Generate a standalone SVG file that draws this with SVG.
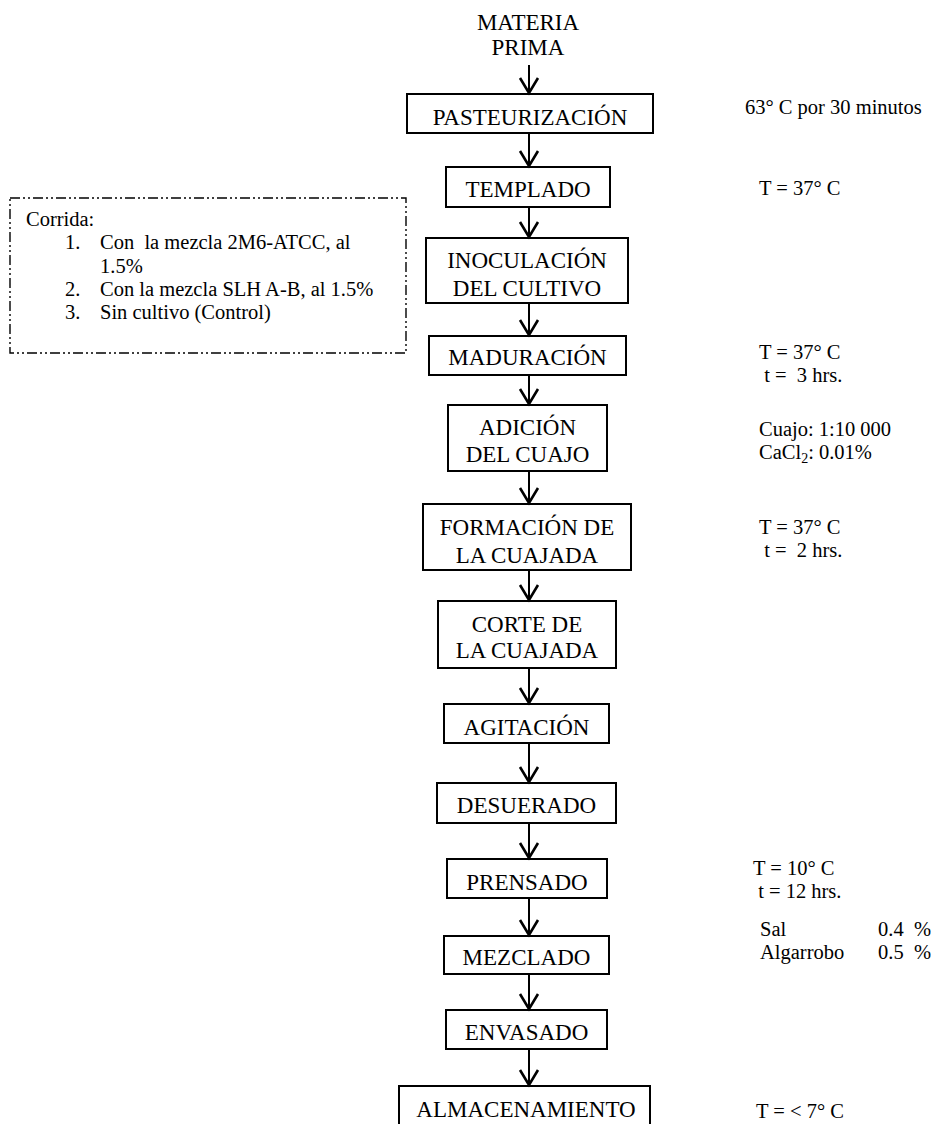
<svg xmlns="http://www.w3.org/2000/svg" width="937" height="1124" viewBox="0 0 937 1124">
<defs>
<style>
.bg{fill:#fff}
.box{fill:none;stroke:#000;stroke-width:2}
.lbl{font-family:"Liberation Serif","Times New Roman",serif;font-size:23px;text-anchor:middle;fill:#000}
.note{font-family:"Liberation Serif","Times New Roman",serif;font-size:20.5px;fill:#000;white-space:pre}
.side{font-family:"Liberation Serif","Times New Roman",serif;font-size:20.5px;fill:#000;white-space:pre}
.dd{fill:none;stroke:#000;stroke-width:1.4;stroke-dasharray:10 3 2 3 2 3}
.shaft{stroke:#000;stroke-width:2;fill:none}
.head{stroke:#000;stroke-width:2.6;fill:none;stroke-linejoin:miter}
</style>
</defs>
<rect class="bg" x="0" y="0" width="937" height="1124"/>

<g id="materia-prima">
<text class="lbl" x="528" y="30">MATERIA</text>
<text class="lbl" x="528" y="55">PRIMA</text>
</g>

<g id="connectors">
<line class="shaft" x1="529" y1="65" x2="529" y2="93"/><path class="head" d="M520,78 L529,93 L538,78"/>
<line class="shaft" x1="529" y1="134" x2="529" y2="166"/><path class="head" d="M520,151 L529,166 L538,151"/>
<line class="shaft" x1="529" y1="208" x2="529" y2="237"/><path class="head" d="M520,222 L529,237 L538,222"/>
<line class="shaft" x1="529" y1="304" x2="529" y2="335"/><path class="head" d="M520,320 L529,335 L538,320"/>
<line class="shaft" x1="529" y1="376" x2="529" y2="404"/><path class="head" d="M520,389 L529,404 L538,389"/>
<line class="shaft" x1="529" y1="472" x2="529" y2="503"/><path class="head" d="M520,488 L529,503 L538,488"/>
<line class="shaft" x1="529" y1="571" x2="529" y2="600"/><path class="head" d="M520,585 L529,600 L538,585"/>
<line class="shaft" x1="529" y1="669" x2="529" y2="703"/><path class="head" d="M520,688 L529,703 L538,688"/>
<line class="shaft" x1="529" y1="744" x2="529" y2="782"/><path class="head" d="M520,767 L529,782 L538,767"/>
<line class="shaft" x1="529" y1="824" x2="529" y2="858"/><path class="head" d="M520,843 L529,858 L538,843"/>
<line class="shaft" x1="529" y1="899" x2="529" y2="935"/><path class="head" d="M520,920 L529,935 L538,920"/>
<line class="shaft" x1="529" y1="975" x2="529" y2="1009"/><path class="head" d="M520,994 L529,1009 L538,994"/>
<line class="shaft" x1="529" y1="1050" x2="529" y2="1085"/><path class="head" d="M520,1070 L529,1085 L538,1070"/>
</g>

<g id="pasteurizacion">
<rect class="box" x="407" y="94" width="246" height="39"/>
<text class="lbl" x="530" y="125">PASTEURIZACIÓN</text>
</g>
<g id="templado">
<rect class="box" x="446" y="167" width="164" height="40"/>
<text class="lbl" x="528" y="197">TEMPLADO</text>
</g>
<g id="inoculacion">
<rect class="box" x="426" y="238" width="202" height="65"/>
<text class="lbl" x="527" y="268">INOCULACIÓN</text>
<text class="lbl" x="527" y="296">DEL CULTIVO</text>
</g>
<g id="maduracion">
<rect class="box" x="429" y="336" width="197" height="39"/>
<text class="lbl" x="527.5" y="365">MADURACIÓN</text>
</g>
<g id="adicion">
<rect class="box" x="448" y="405" width="159" height="66"/>
<text class="lbl" x="527.5" y="435">ADICIÓN</text>
<text class="lbl" x="527.5" y="462">DEL CUAJO</text>
</g>
<g id="formacion">
<rect class="box" x="423" y="504" width="208" height="66"/>
<text class="lbl" x="527" y="535">FORMACIÓN DE</text>
<text class="lbl" x="527" y="563">LA CUAJADA</text>
</g>
<g id="corte">
<rect class="box" x="438" y="601" width="178" height="67"/>
<text class="lbl" x="527" y="632">CORTE DE</text>
<text class="lbl" x="527" y="658">LA CUAJADA</text>
</g>
<g id="agitacion">
<rect class="box" x="444" y="704" width="165" height="39"/>
<text class="lbl" x="526.5" y="735">AGITACIÓN</text>
</g>
<g id="desuerado">
<rect class="box" x="437" y="783" width="179" height="40"/>
<text class="lbl" x="526.5" y="813">DESUERADO</text>
</g>
<g id="prensado">
<rect class="box" x="447" y="859" width="160" height="39"/>
<text class="lbl" x="527" y="890">PRENSADO</text>
</g>
<g id="mezclado">
<rect class="box" x="444" y="936" width="165" height="38"/>
<text class="lbl" x="526.5" y="965">MEZCLADO</text>
</g>
<g id="envasado">
<rect class="box" x="446" y="1010" width="161" height="39"/>
<text class="lbl" x="526.5" y="1040">ENVASADO</text>
</g>
<g id="almacenamiento">
<rect class="box" x="399" y="1086" width="251" height="45"/>
<text class="lbl" x="526" y="1117">ALMACENAMIENTO</text>
</g>

<g id="corrida-note">
<rect class="dd" x="10" y="198" width="396" height="155"/>
<text class="side" x="26" y="226">Corrida:</text>
<text class="side" x="65" y="249">1.</text>
<text class="side" x="100" y="249">Con  la mezcla 2M6-ATCC, al</text>
<text class="side" x="100" y="273">1.5%</text>
<text class="side" x="65" y="296">2.</text>
<text class="side" x="100" y="296">Con la mezcla SLH A-B, al 1.5%</text>
<text class="side" x="65" y="319">3.</text>
<text class="side" x="100" y="319">Sin cultivo (Control)</text>
</g>

<g id="conditions">
<text class="note" x="745" y="114">63° C por 30 minutos</text>
<text class="note" x="759" y="195">T = 37° C</text>
<text class="note" x="759" y="359">T = 37° C</text>
<text class="note" x="759" y="382"> t =  3 hrs.</text>
<text class="note" x="759" y="436">Cuajo: 1:10 000</text>
<text class="note" x="759" y="459">CaCl<tspan font-size="14" dy="4">2</tspan><tspan dy="-4">: 0.01%</tspan></text>
<text class="note" x="759" y="534">T = 37° C</text>
<text class="note" x="759" y="557"> t =  2 hrs.</text>
<text class="note" x="753" y="875">T = 10° C</text>
<text class="note" x="753" y="898"> t = 12 hrs.</text>
<text class="note" x="760" y="936">Sal</text>
<text class="note" x="878" y="936">0.4  %</text>
<text class="note" x="760" y="959">Algarrobo</text>
<text class="note" x="878" y="959">0.5  %</text>
<text class="note" x="756" y="1118">T = &lt; 7° C</text>
</g>
</svg>
